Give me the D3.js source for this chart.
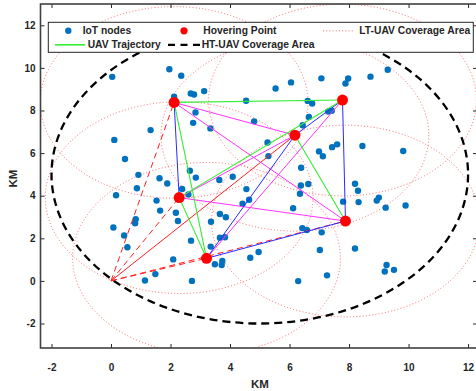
<!DOCTYPE html>
<html>
<head>
<meta charset="utf-8">
<script src="https://cdn.jsdelivr.net/npm/d3@7"></script>
<style>
  body { margin: 0; background: #fff; }
  text { font-family: "Liberation Sans", Arial, sans-serif; }
</style>
</head>
<body>
<div id="chart"></div>
<script>
const width = 476;
const height = 391;

// IoT node positions (km)
const nodeX = [0.04, 1.96, 2.36, 2.12, 2.68, 2.79, 3.13, 4.54, 2.84, 2.76, 3.34, 4.81, 1.33, 0.11, 0.47, 0.92,
  1.63, 1.89, 0.87, 2.65, 2.85, 3.64, 4.09, 4.55, 2.39, 2.60, 5.53, 6.05, 7.07, 7.97, 7.88, 8.72, 9.30, 6.61,
  6.76, 6.65, 6.44, 7.30, 7.42, 5.26, 5.29, 6.99, 7.12, 7.43, 7.60, 8.45, 9.82, 6.39, 6.38, 6.63, 6.35, 8.20,
  8.30, 8.32, 7.80, 8.93, 9.00, 9.23, 9.90, 6.12, 6.43, 6.58, 7.08, 0.17, 1.53, 1.65, 0.83, 0.81, 0.08, 0.44,
  0.55, 2.18, 2.25, 3.36, 3.66, 3.86, 4.42, 4.64, 3.66, 3.83, 3.35, 2.69, 2.09, 1.49, 1.14, 2.72, 3.49, 3.74,
  3.72, 4.68, 4.96, 7.02, 8.20, 9.26, 9.20, 9.51, 7.26, 6.29];
const nodeY = [9.58, 9.94, 9.63, 8.65, 8.80, 8.75, 8.91, 8.46, 7.91, 7.42, 7.16, 7.49, 7.08, 6.62, 5.72, 4.98,
  4.82, 4.57, 4.35, 5.17, 4.85, 4.74, 4.89, 4.31, 4.32, 4.06, 9.03, 9.32, 9.51, 9.50, 9.27, 9.59, 9.91, 8.45,
  8.33, 7.70, 7.31, 7.95, 7.99, 6.50, 5.86, 6.08, 5.85, 6.28, 6.41, 6.33, 6.10, 5.31, 4.48, 4.55, 4.09, 4.56,
  4.23, 3.70, 3.72, 3.77, 3.91, 3.44, 3.54, 3.41, 2.48, 2.39, 2.28, 4.02, 3.77, 3.30, 2.90, 2.71, 2.51, 2.13,
  1.58, 3.20, 2.81, 2.78, 3.14, 2.99, 3.62, 3.81, 2.03, 2.05, 1.61, 1.89, 1.01, 0.32, 0.02, 0.00, 0.78, 0.94,
  0.75, 1.09, 1.36, 1.45, 1.52, 0.75, 0.44, 0.52, 0.26, -0.01];

// hovering points
const hoverX = [2.12, 7.78, 6.18, 2.29, 7.88, 3.21];
const hoverY = [8.38, 8.49, 6.84, 3.91, 2.81, 1.06];

// links between hovering points (indices)
const greenPairs = [[0, 1], [1, 3], [3, 5], [5, 0], [2, 4]];
const bluePairs = [[0, 3], [1, 4], [5, 2], [2, 1], [5, 4]];
const magentaPairs = [[0, 2], [0, 4], [3, 2], [3, 4], [5, 1]];

// HT-UAV at the origin, links to hovering points
const station = [0, 0];
const dashedLinks = [0, 3, 5, 4];
const solidLinks = [2];

const ltRadius = 4.5;
const htCenter = [5, 5];
const htRadius = 7;

const xTicks = [-2, 0, 2, 4, 6, 8, 10, 12];
const yTicks = [-2, 0, 2, 4, 6, 8, 10, 12];

const legendItems = [
  { label: 'IoT nodes', kind: 'node' },
  { label: 'Hovering Point', kind: 'hover' },
  { label: 'LT-UAV Coverage Area', kind: 'lt' },
  { label: 'UAV Trajectory', kind: 'traj' },
  { label: 'HT-UAV Coverage Area', kind: 'ht' },
];

const margin = { top: 4, right: -1, bottom: 43, left: 40.5 };
const plot = {
  left: margin.left,
  right: width - margin.right,
  top: margin.top,
  bottom: height - margin.bottom,
};

const x = d3.scaleLinear().domain([-2.37, 12.3]).range([plot.left, plot.right]);
const y = d3.scaleLinear().domain([-3.15, 13.0]).range([plot.bottom, plot.top]);

const svg = d3.select('#chart').append('svg')
  .attr('width', width)
  .attr('height', height);

svg.append('defs').append('clipPath').attr('id', 'clip')
  .append('rect')
  .attr('x', plot.left).attr('y', plot.top)
  .attr('width', plot.right - plot.left).attr('height', plot.bottom - plot.top);

const g = svg.append('g').attr('clip-path', 'url(#clip)');

const kx = x(1) - x(0);
const ky = y(0) - y(1);

// LT-UAV coverage circles
g.append('g').selectAll('ellipse')
  .data(hoverX.map((d, i) => [d, hoverY[i]]))
  .join('ellipse')
  .attr('cx', d => x(d[0]))
  .attr('cy', d => y(d[1]))
  .attr('rx', ltRadius * kx)
  .attr('ry', ltRadius * ky)
  .attr('fill', 'none')
  .attr('stroke', '#ff3b3b')
  .attr('stroke-opacity', 0.75)
  .attr('stroke-width', 1)
  .attr('stroke-dasharray', '1,2.2');

// HT-UAV coverage
g.append('ellipse')
  .attr('cx', x(htCenter[0]))
  .attr('cy', y(htCenter[1]))
  .attr('rx', htRadius * kx)
  .attr('ry', htRadius * ky)
  .attr('fill', 'none')
  .attr('stroke', '#000')
  .attr('stroke-width', 2.3)
  .attr('stroke-dasharray', '8,5');

// IoT nodes
g.append('g').selectAll('circle')
  .data(nodeX.map((d, i) => [d, nodeY[i]]))
  .join('circle')
  .attr('cx', d => x(d[0]))
  .attr('cy', d => y(d[1]))
  .attr('r', 3.2)
  .attr('fill', '#0072BD');

// station links
function drawLinks(list, dash) {
  g.append('g').selectAll('line')
    .data(list)
    .join('line')
    .attr('x1', x(station[0]))
    .attr('y1', y(station[1]))
    .attr('x2', i => x(hoverX[i]))
    .attr('y2', i => y(hoverY[i]))
    .attr('stroke', '#ff2020')
    .attr('stroke-width', 1)
    .attr('stroke-dasharray', dash);
}
drawLinks(dashedLinks, '6,4');
drawLinks(solidLinks, null);

function drawPairs(pairs, color, w) {
  g.append('g').selectAll('line')
    .data(pairs)
    .join('line')
    .attr('x1', d => x(hoverX[d[0]]))
    .attr('y1', d => y(hoverY[d[0]]))
    .attr('x2', d => x(hoverX[d[1]]))
    .attr('y2', d => y(hoverY[d[1]]))
    .attr('stroke', color)
    .attr('stroke-width', w);
}
drawPairs(magentaPairs, '#ff33ff', 1);
drawPairs(bluePairs, '#2a2aff', 1);
drawPairs(greenPairs, '#33ee33', 1.1);

// hovering points
g.append('g').selectAll('circle')
  .data(hoverX.map((d, i) => [d, hoverY[i]]))
  .join('circle')
  .attr('cx', d => x(d[0]))
  .attr('cy', d => y(d[1]))
  .attr('r', 5.5)
  .attr('fill', '#ff0000');

// axes
const axisColor = '#262626';
function styleAxis(sel) {
  sel.select('.domain').remove();
  sel.selectAll('line').attr('stroke', axisColor).attr('stroke-width', 1);
  sel.selectAll('text')
    .attr('fill', axisColor)
    .style('font-size', '10px')
    .style('font-weight', 'bold');
}
const fmt = d => String(d);

svg.append('g')
  .attr('transform', `translate(0,${plot.bottom})`)
  .call(d3.axisBottom(x).tickValues(xTicks).tickFormat(fmt).tickSize(-4).tickPadding(16))
  .call(styleAxis);

svg.append('g')
  .attr('transform', `translate(0,${plot.top})`)
  .call(d3.axisTop(x).tickValues(xTicks).tickFormat('').tickSize(-4))
  .call(styleAxis);

svg.append('g')
  .attr('transform', `translate(${plot.left},0)`)
  .call(d3.axisLeft(y).tickValues(yTicks).tickFormat(fmt).tickSize(-4).tickPadding(5))
  .call(styleAxis);

svg.append('g')
  .attr('transform', `translate(${plot.right},0)`)
  .call(d3.axisRight(y).tickValues(yTicks).tickFormat('').tickSize(-4))
  .call(styleAxis);

svg.append('rect')
  .attr('x', plot.left).attr('y', plot.top)
  .attr('width', plot.right - plot.left).attr('height', plot.bottom - plot.top)
  .attr('fill', 'none')
  .attr('stroke', '#404040')
  .attr('stroke-width', 1.6);

// axis labels
svg.append('text')
  .attr('x', 260).attr('y', 387.5)
  .attr('text-anchor', 'middle')
  .attr('fill', axisColor)
  .style('font-size', '11.5px').style('font-weight', 'bold')
  .text('KM');

svg.append('text')
  .attr('transform', 'translate(16.5,178.5) rotate(-90)')
  .attr('text-anchor', 'middle')
  .attr('fill', axisColor)
  .style('font-size', '11.5px').style('font-weight', 'bold')
  .text('KM');

// legend
const legend = svg.append('g');
legend.append('rect')
  .attr('x', 48.3).attr('y', 22.3)
  .attr('width', 425).attr('height', 30)
  .attr('fill', '#fff')
  .attr('stroke', axisColor)
  .attr('stroke-width', 1);

const slots = [
  { sx: 55, tx: 82.7, ty: 34.3 },
  { sx: 171, tx: 203.3, ty: 34.3 },
  { sx: 323, tx: 359.3, ty: 34.3 },
  { sx: 55, tx: 87.7, ty: 48.3 },
  { sx: 168, tx: 201.7, ty: 48.3 },
];

legendItems.forEach((item, i) => {
  const s = slots[i];
  const cy = s.ty - 3.5;
  if (item.kind === 'node') {
    legend.append('circle').attr('cx', 68.3).attr('cy', cy).attr('r', 3.2).attr('fill', '#0072BD');
  } else if (item.kind === 'hover') {
    legend.append('circle').attr('cx', 184).attr('cy', cy).attr('r', 3.6).attr('fill', '#ff0000');
  } else if (item.kind === 'lt') {
    legend.append('line').attr('x1', s.sx).attr('x2', s.sx + 32).attr('y1', cy).attr('y2', cy)
      .attr('stroke', '#ff3b3b').attr('stroke-opacity', 0.75).attr('stroke-dasharray', '1,2.2');
  } else if (item.kind === 'traj') {
    legend.append('line').attr('x1', s.sx).attr('x2', s.sx + 30).attr('y1', cy).attr('y2', cy)
      .attr('stroke', '#33ee33').attr('stroke-width', 1.6);
  } else {
    legend.append('line').attr('x1', s.sx).attr('x2', s.sx + 33).attr('y1', cy).attr('y2', cy)
      .attr('stroke', '#000').attr('stroke-width', 2.3).attr('stroke-dasharray', '7,5.5');
  }
  legend.append('text')
    .attr('x', s.tx).attr('y', s.ty)
    .attr('fill', axisColor)
    .style('font-size', '10.3px').style('font-weight', 'bold')
    .text(item.label);
});
</script>
</body>
</html>
